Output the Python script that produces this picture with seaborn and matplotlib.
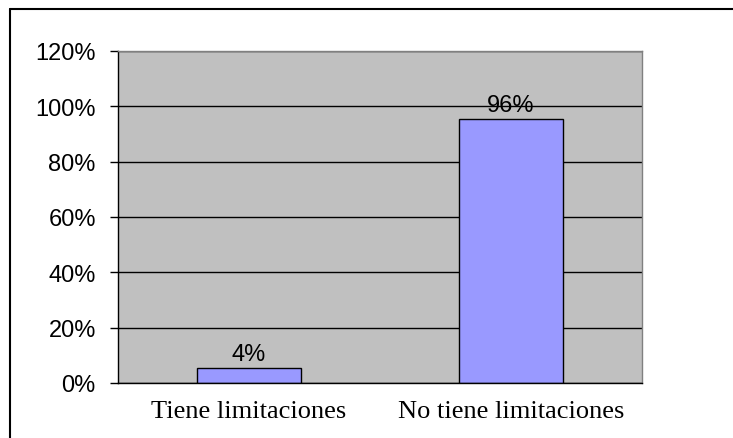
import pandas as pd
import matplotlib.pyplot as plt
import seaborn as sns
from matplotlib.lines import Line2D

# datos
categorias = ['Tiene limitaciones', 'No tiene limitaciones']
valores = [0.055, 0.955]
etiquetas = ['4%', '96%']
yticks = [0, 0.2, 0.4, 0.6, 0.8, 1.0, 1.2]
ytick_labels = ['0%', '20%', '40%', '60%', '80%', '100%', '120%']

df = pd.DataFrame({'categoria': categorias, 'valor': valores})

sns.set_style('white')
plt.rcParams['font.family'] = ['Liberation Sans', 'DejaVu Sans']
plt.rcParams['text.color'] = 'black'
plt.rcParams['xtick.color'] = 'black'
plt.rcParams['ytick.color'] = 'black'

fig = plt.figure(figsize=(7.33, 4.39), dpi=100)
ax = fig.add_axes([0.161, 0.1253, 0.715, 0.7565])

sns.barplot(x='categoria', y='valor', data=df, color='#9999FF', width=0.4,
            edgecolor='black', linewidth=1, saturation=1, ax=ax)

ax.set_facecolor('#C0C0C0')
ax.set_xlim(-0.5, 1.5)
ax.set_ylim(0, 1.2)
ax.set_yticks(yticks)
ax.set_yticklabels(ytick_labels, fontsize=17)
ax.yaxis.grid(True, color='black', linewidth=1)
ax.set_axisbelow(True)

# ticks del eje x en los limites entre categorias
ax.set_xticks([0, 1])
ax.set_xticklabels(categorias, family=['Liberation Serif', 'DejaVu Serif'], fontsize=19)
ax.tick_params(axis='x', which='major', length=0, pad=12)
ax.set_xticks([-0.5, 0.5, 1.5], minor=True)
ax.tick_params(axis='x', which='minor', length=6, width=1, color='black', direction='out')
ax.tick_params(axis='y', length=6, width=1, color='black', direction='out', pad=10, left=True)

ax.set_xlabel('')
ax.set_ylabel('')

for s in ['left', 'bottom']:
    ax.spines[s].set_color('black')
    ax.spines[s].set_linewidth(1)
for s in ['top', 'right']:
    ax.spines[s].set_color('#808080')
    ax.spines[s].set_linewidth(1)

for i, (v, t) in enumerate(zip(valores, etiquetas)):
    ax.annotate(t, (i, v), xytext=(0, 2), textcoords='offset points',
                ha='center', va='bottom', fontsize=17, color='black')

# marco exterior (solo visible arriba e izquierda)
fig.add_artist(Line2D([10 / 733, 10 / 733], [0, 1 - 10 / 439], color='black', linewidth=1.5))
fig.add_artist(Line2D([10 / 733, 1], [1 - 10 / 439, 1 - 10 / 439], color='black', linewidth=1.5))

fig.savefig('out.png', dpi=100)
